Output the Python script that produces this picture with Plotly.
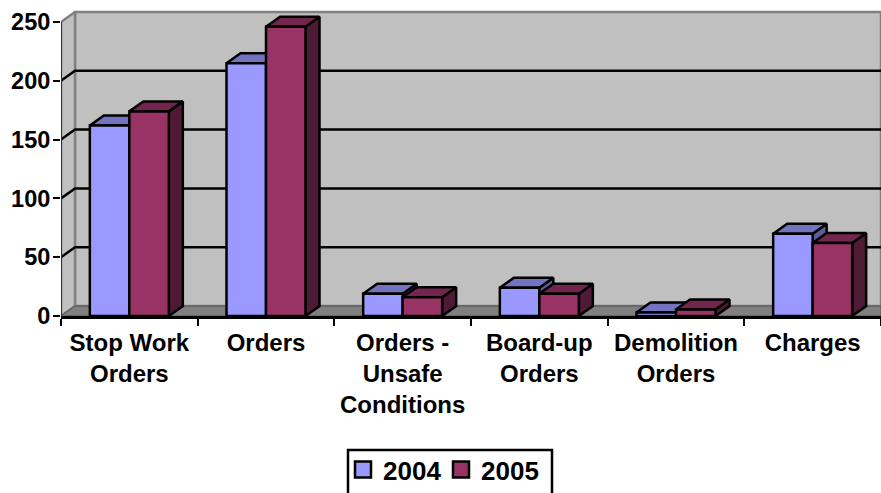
import plotly.graph_objects as go

categories = ["Stop Work<br>Orders", "Orders", "Orders -<br>Unsafe<br>Conditions", "Board-up<br>Orders", "Demolition<br>Orders", "Charges"]
series_names = ["2004", "2005"]
values_2004 = [162, 215, 19, 24, 3, 70]
values_2005 = [174, 246, 16, 19, 5.5, 62]
y_ticks = [0, 50, 100, 150, 200, 250]

FONT = "Liberation Sans, Arial, sans-serif"
W, H = 881, 493
L, R_PX, T_PX, B_PX = 61, 881, 10, 316
PX_PER_UNIT = 1.176
Y_MAX = (B_PX - T_PX) / PX_PER_UNIT
X0, X1 = -0.5, 5.5
DX = 14 / ((R_PX - L) / 6)
DY = 10 / PX_PER_UNIT
BAR_W = 0.289
BAR_GAP = 1 - 2 * BAR_W
LW = 2.5

front = ["#9999FF", "#993366"]
top_c = ["#7373BF", "#73264D"]
side_c = ["#5C5C99", "#4F1A35"]
WALL, FLOOR, EDGE = "#C0C0C0", "#808080", "#808080"

fig = go.Figure()


def poly(xs, ys, fill, line="black", w=LW):
    fig.add_trace(go.Scatter(x=xs, y=ys, mode="lines", fill="toself", fillcolor=fill,
                             line=dict(color=line, width=w), hoverinfo="skip",
                             showlegend=False, xaxis="x", yaxis="y"))


def seg(xs, ys, color="black", w=2.5):
    fig.add_trace(go.Scatter(x=xs, y=ys, mode="lines", line=dict(color=color, width=w),
                             hoverinfo="skip", showlegend=False, xaxis="x", yaxis="y"))


# walls
poly([X0 + DX, X1, X1, X0 + DX, X0 + DX], [DY, DY, y_ticks[-1] + DY, y_ticks[-1] + DY, DY], WALL, EDGE, 2.5)
poly([X0, X0 + DX, X0 + DX, X0, X0], [0, DY, y_ticks[-1] + DY, y_ticks[-1], 0], WALL, EDGE, 2.5)
poly([X0, X1, X1, X0 + DX, X0], [0, 0, DY, DY, 0], FLOOR, "#505050", 1)
# grid lines on the walls
for v in y_ticks[1:-1]:
    seg([X0, X0 + DX, X1], [v, v + DY, v + DY])
seg([X0, X0], [0, y_ticks[-1]], "#303030", 2)

# depth faces (top and side) for each series
for k, vals in enumerate([values_2004, values_2005]):
    for i, v in enumerate(vals):
        a = i - BAR_W + k * BAR_W
        b = a + BAR_W
        poly([b, b + DX, b + DX, b, b], [0, DY, v + DY, v, 0], side_c[k])
        poly([a, b, b + DX, a + DX, a], [v, v, v + DY, v + DY, v], top_c[k])

# front faces
for k, vals in enumerate([values_2004, values_2005]):
    fig.add_trace(go.Bar(x=categories, y=vals, name=series_names[k], xaxis="x2", yaxis="y", showlegend=False,
                         marker=dict(color=front[k], line=dict(color="black", width=LW))))

# legend entries with larger square swatches
for k in range(2):
    fig.add_trace(go.Scatter(x=[None], y=[None], mode="markers", name=series_names[k], xaxis="x", yaxis="y",
                             marker=dict(symbol="square", size=16, color=front[k],
                                         line=dict(color="black", width=2.5))))

py = lambda p: (B_PX - p) / (B_PX - T_PX)
px = lambda p: (p - L) / (R_PX - L)

fig.update_layout(
    width=W, height=H, autosize=False,
    margin=dict(l=L, r=W - R_PX, t=T_PX, b=H - B_PX, pad=0),
    paper_bgcolor="white", plot_bgcolor="white",
    font=dict(family=FONT, size=23, color="black"),
    barmode="group", bargap=BAR_GAP, bargroupgap=0,
    xaxis=dict(range=[X0, X1], visible=False, fixedrange=True),
    xaxis2=dict(overlaying="x", anchor="y", type="category", categoryorder="array", categoryarray=categories,
                range=[X0, X1], tickson="boundaries", ticks="outside", ticklen=7, tickwidth=2,
                tickcolor="black", showline=True, linecolor="black", linewidth=3, showgrid=False,
                tickangle=0, tickfont=dict(family=FONT, size=24, color="black", weight="bold"),
                ticklabelstandoff=3, automargin=False, side="bottom", fixedrange=True),
    yaxis=dict(range=[0, Y_MAX], tickvals=y_ticks, ticks="outside", ticklen=7, tickwidth=2, tickcolor="black",
               showgrid=False, zeroline=False, showline=False, ticklabelstandoff=-2, fixedrange=True,
               tickfont=dict(family=FONT, size=23.5, color="black", weight="bold"), automargin=False),
    showlegend=True,
    legend=dict(orientation="h", xref="container", yref="container", x=343 / W, y=1 - 446 / H,
                xanchor="left", yanchor="top", bgcolor="rgba(0,0,0,0)", borderwidth=0,
                itemsizing="trace", entrywidth=53, entrywidthmode="pixels",
                font=dict(family=FONT, size=26, color="black", weight="bold"), traceorder="normal"),
    shapes=[dict(type="rect", xref="paper", yref="paper", x0=px(348), x1=px(552), y0=py(450), y1=py(510),
                 line=dict(color="black", width=2.5), fillcolor="rgba(0,0,0,0)")],
)

fig.write_html("out.html", config={"displayModeBar": False}, post_script="document.body.style.margin='0';")
